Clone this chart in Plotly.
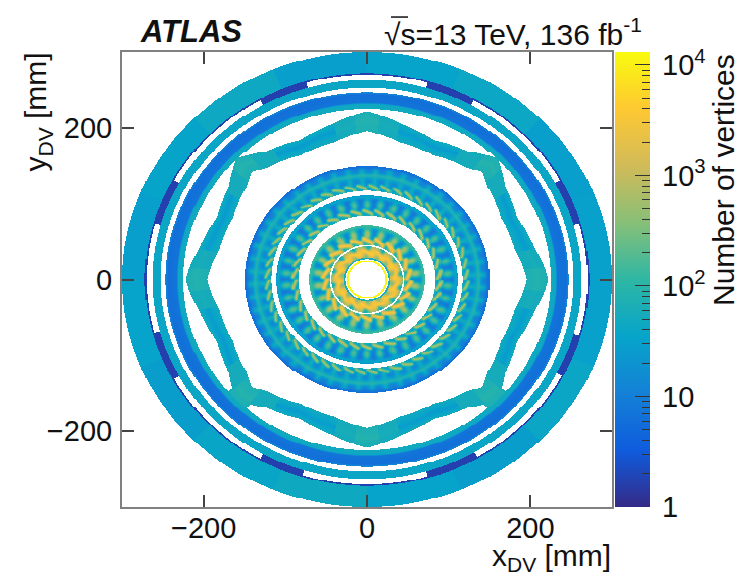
import numpy as np
import plotly.graph_objects as go

# ---- chart values (vertex counts per bin, radii in mm) ----
BIRD = [[0.2082,0.1664,0.5293],[0.0592,0.3599,0.8684],[0.0780,0.5041,0.8385],[0.0232,0.6419,0.7914],
        [0.1802,0.7178,0.6425],[0.5301,0.7492,0.4662],[0.8186,0.7328,0.3499],[0.9956,0.7862,0.1968],[0.9764,0.9832,0.0539]]
ZMAX = 13100
MAJOR_VALUES = [1, 10, 100, 1000, 10000]
MAJOR_LABELS = ["\u20091", "\u200910", "\u200910<sup>2</sup>", "\u200910<sup>3</sup>", "\u200910<sup>4</sup>"]
AXIS_TICKS = [-200, 0, 200]

# outer ring, 22.5 degree tiles starting at 0 degrees
OUTER_RADII = [272, 300]
OUTER_TILES = [32, 30, 42, 34, 30, 44, 36, 30, 34, 28, 38, 46, 34, 28, 40, 32]
# thin dark ring and the patches that fill the gap under it
DARK_RADII = [263, 272]
DARK_THIN_FROM = 270
DARK_COUNT = 1.7
PATCH_FROM = [16, 61, 106, 151, 195, 241, 286, 332]
PATCH_TO = [29, 74, 119, 164, 209, 253, 300, 344]
# ring 2
RING2_RADII = [253, 263]
RING2_COUNT = 40
# ring 3, radial profile
RING3_R = [225, 231, 233, 244, 247]
RING3_COUNT = [50, 44, 7, 6, 14]
# octagon support, alpha = angle from nearest axis direction
OCT_OUT_ALPHA = [0, 4, 11, 24, 36, 45]
OCT_OUT_R = [222, 218, 210, 201, 209, 226]
OCT_IN_ALPHA = [0, 12.8, 26.6, 39.9, 45]
OCT_IN_R = [196, 185, 183, 192, 200]
OCT_LOWER_FILL_ALPHA = 41
OCT_ALPHA = [0, 8, 14, 30, 38, 45]
OCT_FRAC = [0, 0.35, 0.55, 0.75, 1]
OCT_COUNT = [[70, 55, 50, 50, 55, 70],
             [75, 55, 38, 36, 55, 75],
             [85, 60, 26, 24, 55, 90],
             [75, 55, 38, 36, 55, 75],
             [65, 55, 50, 50, 55, 70]]
# innermost thin rings
HOLE_R = 23
THIN_R = [23, 25.5]
THIN_COUNT = 12000
THIN2_R = [27, 29]
THIN2_COUNT = 60

# pixel layers: staves, radii, background table (radius x phase), streak table (radius x phase)
L3_N, L3_R0, L3_R1 = 52, 117, 150
L3_R = [117, 119, 124, 130, 134, 137, 141, 145, 147, 150]
L3_T = [[70, 70, 70, 70, 70, 70, 70, 70],
        [30, 30, 30, 30, 30, 30, 30, 30],
        [14, 20, 45, 60, 45, 20, 14, 12],
        [14, 18, 40, 55, 40, 18, 14, 12],
        [35, 38, 45, 50, 45, 38, 35, 35],
        [100, 100, 100, 100, 100, 100, 100, 100],
        [14, 16, 40, 55, 40, 16, 14, 12],
        [11, 13, 32, 40, 32, 13, 11, 10],
        [7, 8, 9, 9, 9, 8, 7, 7],
        [6, 6, 6, 6, 6, 6, 6, 6]]
L3_BR = [118, 119.5, 121, 122.5, 124, 125.5, 127]
L3_B = [[500, 150, 1, 1, 1, 1, 1, 1],
        [1300, 1100, 700, 200, 1, 1, 1, 1],
        [500, 800, 1300, 1100, 700, 200, 1, 1],
        [1, 150, 500, 800, 1300, 1100, 700, 200],
        [1, 1, 1, 150, 400, 700, 1300, 1100],
        [1, 1, 1, 1, 1, 150, 500, 700],
        [1, 1, 1, 1, 1, 1, 1, 1]]

L2_N, L2_R0, L2_R1 = 38, 84, 111
L2_R = [84, 86, 91, 95, 99, 103, 106, 108, 111]
L2_T = [[90, 90, 90, 90, 90, 90, 90, 90],
        [50, 40, 30, 30, 30, 30, 30, 40],
        [14, 12, 14, 30, 40, 30, 14, 12],
        [10, 10, 40, 130, 180, 100, 20, 10],
        [8, 14, 70, 180, 240, 150, 40, 10],
        [8, 10, 30, 90, 130, 80, 20, 8],
        [10, 10, 12, 25, 30, 20, 10, 10],
        [55, 55, 55, 55, 55, 55, 55, 55],
        [18, 18, 18, 18, 18, 18, 18, 18]]
L2_BR = [85, 86.5, 88, 89.5, 91, 92.5, 94]
L2_B = [[700, 200, 1, 1, 1, 1, 1, 1],
        [2200, 1700, 1000, 300, 1, 1, 1, 1],
        [700, 1200, 2200, 1700, 1000, 300, 1, 1],
        [1, 200, 700, 1200, 2200, 1700, 1000, 300],
        [1, 1, 1, 200, 600, 1000, 2200, 1700],
        [1, 1, 1, 1, 1, 200, 700, 1000],
        [1, 1, 1, 1, 1, 1, 1, 1]]

L1_N, L1_R0, L1_R1 = 22, 45.5, 71
L1_R = [45.5, 48, 54, 58, 62, 65, 68, 71]
L1_T = [[300, 200, 150, 150, 150, 150, 150, 200],
        [50, 40, 40, 70, 80, 70, 40, 40],
        [20, 20, 60, 200, 400, 200, 40, 20],
        [16, 25, 160, 500, 800, 400, 80, 16],
        [12, 25, 130, 420, 650, 320, 70, 12],
        [14, 20, 60, 150, 200, 120, 30, 14],
        [80, 80, 80, 100, 100, 100, 80, 80],
        [200, 200, 200, 200, 200, 200, 200, 200]]
L1_BR = [46, 48, 50, 52, 54, 56, 58.5]
L1_B = [[1800, 600, 1, 1, 1, 1, 1, 300],
        [5500, 4500, 2800, 900, 60, 1, 1, 1200],
        [2500, 4000, 5500, 4500, 2800, 900, 60, 400],
        [60, 600, 2200, 4000, 5500, 4500, 2800, 900],
        [1, 1, 60, 600, 1800, 3200, 5500, 4500],
        [1, 1, 1, 1, 60, 600, 1800, 2800],
        [1, 1, 1, 1, 1, 1, 1, 1]]

L0_N, L0_R0, L0_R1 = 14, 29, 43.5
L0_R = [29, 32, 36, 40, 43.5]
L0_T = [[400, 700, 1000, 400, 100, 200, 350, 300],
        [2000, 3000, 3000, 2000, 500, 500, 1000, 1500],
        [3500, 4000, 3500, 2500, 800, 800, 1800, 3000],
        [1800, 1800, 500, 40, 150, 600, 1100, 1500],
        [500, 500, 100, 30, 60, 150, 350, 400]]
L0_BR = [30, 32, 34, 36, 38, 40, 42]
L0_B = [[2000, 700, 60, 1, 1, 1, 1, 400],
        [5500, 4500, 3000, 1000, 100, 1, 1, 1500],
        [3000, 4500, 5500, 4500, 3000, 1000, 100, 500],
        [100, 700, 2500, 4500, 5500, 4500, 3000, 1000],
        [1, 1, 100, 700, 2000, 3500, 5500, 4500],
        [1, 1, 1, 1, 100, 700, 2000, 3000],
        [1, 1, 1, 1, 1, 1, 1, 1]]

# ---- build the 2D histogram from the tables ----
BIN = 1.25
edges = np.arange(-300, 300 + BIN / 2, BIN)
xc = (edges[:-1] + edges[1:]) / 2
X, Y = np.meshgrid(xc, xc)
R = np.hypot(X, Y)
TH = np.degrees(np.arctan2(Y, X)) % 360
Z = np.full(X.shape, np.nan, dtype=np.float32)


def lookup(table, radii, r, phase):
    t = np.log10(np.asarray(table, dtype=float))
    nr, nc = t.shape
    i = np.interp(r, radii, np.arange(nr))
    i0 = np.floor(i).astype(int)
    i1 = np.minimum(i0 + 1, nr - 1)
    fi = i - i0
    j = (phase % 1.0) * nc
    j0 = np.floor(j).astype(int) % nc
    j1 = (j0 + 1) % nc
    fj = j - np.floor(j)
    return (t[i0, j0] * (1 - fj) * (1 - fi) + t[i0, j1] * fj * (1 - fi)
            + t[i1, j0] * (1 - fj) * fi + t[i1, j1] * fj * fi)


def add_layer(n, r0, r1, radii, table, bradii, btable):
    m = (R >= r0) & (R < r1)
    phase = TH[m] / 360 * n
    Z[m] = np.maximum(lookup(table, radii, R[m], phase), lookup(btable, bradii, R[m], phase))


add_layer(L3_N, L3_R0, L3_R1, L3_R, L3_T, L3_BR, L3_B)
add_layer(L2_N, L2_R0, L2_R1, L2_R, L2_T, L2_BR, L2_B)
add_layer(L1_N, L1_R0, L1_R1, L1_R, L1_T, L1_BR, L1_B)
add_layer(L0_N, L0_R0, L0_R1, L0_R, L0_T, L0_BR, L0_B)

# the reference is soft at bin level: average each pixel-detector bin with its filled neighbours
mask = ~np.isnan(Z)
vals = np.where(mask, Z, 0.0)
s = np.zeros_like(vals)
c = np.zeros_like(vals)
for dx in (-1, 0, 1):
    for dy in (-1, 0, 1):
        s += np.roll(np.roll(vals, dx, 1), dy, 0)
        c += np.roll(np.roll(mask.astype(float), dx, 1), dy, 0)
Z[mask] = (s[mask] / c[mask]).astype(np.float32)

Z[(R >= THIN_R[0]) & (R < THIN_R[1])] = np.log10(THIN_COUNT)
Z[(R >= THIN2_R[0]) & (R < THIN2_R[1])] = np.log10(THIN2_COUNT)

# octagon
ALPHA = np.abs(((TH + 45) % 90) - 45)
rout = np.interp(ALPHA, OCT_OUT_ALPHA, OCT_OUT_R)
rin = np.interp(ALPHA, OCT_IN_ALPHA, OCT_IN_R)
rout = np.where((Y < 0) & (ALPHA > OCT_LOWER_FILL_ALPHA), 226, rout)
m = (R >= rin) & (R < rout)
frac = (R[m] - rin[m]) / (rout[m] - rin[m])
t = np.log10(np.array(OCT_COUNT, dtype=float))
ia = np.round(np.interp(ALPHA[m], OCT_ALPHA, np.arange(len(OCT_ALPHA)))).astype(int)
fi = np.interp(frac, OCT_FRAC, np.arange(len(OCT_FRAC)))
i0 = np.floor(fi).astype(int)
i1 = np.minimum(i0 + 1, len(OCT_FRAC) - 1)
Z[m] = t[i0, ia] * (1 - (fi - i0)) + t[i1, ia] * (fi - i0)

# outer structures
m = (R >= RING3_R[0]) & (R < RING3_R[-1])
Z[m] = np.interp(R[m], RING3_R, np.log10(RING3_COUNT))
m = (R >= RING2_RADII[0]) & (R < RING2_RADII[1])
Z[m] = np.log10(RING2_COUNT)
m = (R >= DARK_THIN_FROM) & (R < DARK_RADII[1])
Z[m] = np.log10(DARK_COUNT)
for a0, a1 in zip(PATCH_FROM, PATCH_TO):
    m = (R >= DARK_RADII[0]) & (R < DARK_RADII[1]) & (TH >= a0) & (TH < a1)
    Z[m] = np.log10(DARK_COUNT)
m = (R >= OUTER_RADII[0]) & (R <= OUTER_RADII[1])
tile = (TH[m] // 22.5).astype(int) % len(OUTER_TILES)
Z[m] = np.log10(np.array(OUTER_TILES, dtype=float))[tile]

# ---- figure ----
L, Rp, T, Bp = 122.0, 612.0, 52.0, 507.5
W, H = 746, 576
FONT = "Liberation Sans"
FS = 29
FT = 30
colors = [[i / (len(BIRD) - 1), "rgb(%d,%d,%d)" % tuple(round(c * 255) for c in s)] for i, s in enumerate(BIRD)]
cmax = float(np.log10(ZMAX))


def px(x):
    return (x - L) / (Rp - L)


def py(y):
    return (Bp - y) / (Bp - T)


minor_vals = [float(np.log10(m * d)) for d in (1, 10, 100, 1000) for m in range(2, 10)] + [float(np.log10(v)) for v in MAJOR_VALUES]
fig = go.Figure()
fig.add_trace(go.Heatmap(x=xc, y=xc, z=Z, coloraxis="coloraxis", zsmooth=False, hoverongaps=False,
                         hovertemplate="x=%{x}<br>y=%{y}<br>log10 N=%{z}<extra></extra>"))
fig.add_trace(go.Heatmap(x=[1000], y=[1000], z=[[0]], coloraxis="coloraxis2", hoverinfo="skip"))

cb_common = dict(lenmode="fraction", len=1, y=0, yanchor="bottom", ypad=0, xpad=0, outlinewidth=0, thicknessmode="pixels",
                 xanchor="left", tickmode="array")
axis_common = dict(range=[-300, 300], tickvals=AXIS_TICKS, ticks="inside", ticklen=12, tickwidth=1.5, tickcolor="#444444",
                   showline=True, linecolor="#808080", linewidth=2, mirror="allticks", showgrid=False, zeroline=False,
                   tickfont=dict(size=FS, family=FONT))
txt = dict(showarrow=False, xref="paper", yref="paper", font=dict(size=FT, family=FONT, color="#111111"))
fig.update_layout(
    width=W, height=H, autosize=False, paper_bgcolor="white", plot_bgcolor="white",
    margin=dict(l=L, r=W - Rp, t=T, b=H - Bp, pad=0),
    font=dict(family=FONT, size=FS, color="#111111"), showlegend=False,
    xaxis={**axis_common, "ticklabelstandoff": -6}, yaxis={**axis_common, "ticklabelstandoff": 2},
    coloraxis=dict(cmin=0, cmax=cmax, colorscale=colors, colorbar=dict(
        x=px(615), thickness=35, ticks="inside", ticklen=15, tickwidth=1.2, tickcolor="#333333",
        tickvals=[float(np.log10(v)) for v in MAJOR_VALUES], ticktext=MAJOR_LABELS,
        tickfont=dict(size=FS, family=FONT), **cb_common)),
    coloraxis2=dict(cmin=0, cmax=cmax, colorscale=colors, colorbar=dict(
        x=px(642), thickness=8, ticks="inside", ticklen=8, tickwidth=1.2, tickcolor="#333333",
        tickvals=minor_vals, showticklabels=False, **cb_common)),
    annotations=[
        dict(text="<b><i>ATLAS</i></b>", x=px(138), y=py(31), xanchor="left", yanchor="middle",
             **{**txt, "font": dict(size=31, family=FONT, color="#111111")}),
        dict(text="√s=13 TeV, 136 fb<sup>-1</sup>", x=px(644), y=py(32), xanchor="right", yanchor="middle", **txt),
        dict(text="x<sub>DV</sub> [mm]", x=px(613), y=py(558), xanchor="right", yanchor="middle", **txt),
        dict(text="y<sub>DV</sub> [mm]", x=px(38), y=py(51), xanchor="center", yanchor="top", textangle=-90, **txt),
        dict(text="Number of vertices", x=px(723), y=py(52), xanchor="center", yanchor="top", textangle=-90, **txt),
    ],
    shapes=[dict(type="line", xref="paper", yref="paper", x0=px(391), x1=px(408), y0=py(17), y1=py(17),
                 line=dict(color="#111111", width=1.5))],
)
fig.write_html("out.html", config={"displayModeBar": False}, post_script="document.body.style.margin='0';")
